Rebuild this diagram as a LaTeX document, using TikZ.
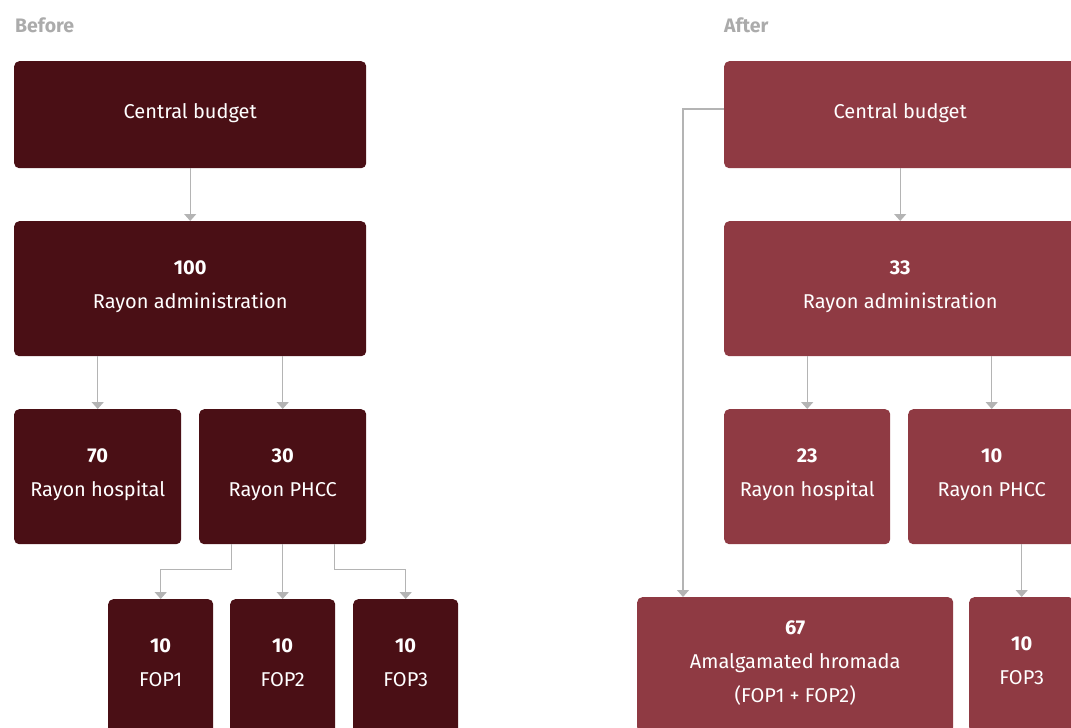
\documentclass[tikz,border=0pt]{standalone}
\usepackage{fontspec}
\setmainfont{Fira Sans}
\usetikzlibrary{arrows.meta,calc}
\definecolor{beforefill}{HTML}{4A0F15}
\definecolor{afterfill}{HTML}{8F3A43}
\definecolor{linkgray}{HTML}{B4B4B4}
\definecolor{titlegray}{HTML}{ABABAB}
\begin{document}
\begin{tikzpicture}[x=1pt,y=-1pt,
  box/.style={rectangle, rounded corners=5pt, inner sep=0pt, align=center,
    text=white, anchor=north west, font=\fontsize{20}{34}\selectfont},
  % text height/depth are measured from the baseline of the last line
  oneline/.style={text height=14pt, text depth=7pt},
  twoline/.style={text height=48pt, text depth=9pt},
  threeline/.style={text height=82pt, text depth=7pt},
  before/.style={box, fill=beforefill},
  after/.style={box, fill=afterfill},
  link/.style={draw=linkgray, line width=1.4pt, -{Triangle[width=12pt,length=7pt]}},
  title/.style={anchor=base west, inner sep=0pt, text=titlegray,
    font=\fontsize{19.5}{22}\selectfont\bfseries}]
\useasboundingbox (0,0) rectangle (1071,728);
\clip (0,0) rectangle (1071,728);

% ---------- Before ----------
\node[title] (tbefore) at (15,32) {Before};
\node[before, oneline, minimum width=352pt, minimum height=107pt] (cb1) at (14,61) {Central budget};
\node[before, twoline, minimum width=352pt, minimum height=135pt] (adm1) at (14,221) {\textbf{100}\\Rayon administration};
\node[before, twoline, minimum width=167pt, minimum height=135pt] (hosp1) at (14,409) {\textbf{70}\\Rayon hospital};
\node[before, twoline, minimum width=167pt, minimum height=135pt] (phcc1) at (199,409) {\textbf{30}\\Rayon PHCC};
\node[before, twoline, minimum width=105pt, minimum height=135pt] (fop1) at (108,599) {\textbf{10}\\FOP1};
\node[before, twoline, minimum width=105pt, minimum height=135pt] (fop2) at (230,599) {\textbf{10}\\FOP2};
\node[before, twoline, minimum width=105pt, minimum height=135pt] (fop3) at (353,599) {\textbf{10}\\FOP3};

\draw[link] (cb1.south) -- (adm1.north);
\draw[link] (hosp1.north |- adm1.south) -- (hosp1.north);
\draw[link] (phcc1.north |- adm1.south) -- (phcc1.north);
\draw[link] ([xshift=-51.5pt]phcc1.south) -- ++(0,25) -| (fop1.north);
\draw[link] (fop2.north |- phcc1.south) -- (fop2.north);
\draw[link] ([xshift=51.5pt]phcc1.south) -- ++(0,25) -| (fop3.north);

% ---------- After ----------
\node[title] (tafter) at (724,32) {After};
\node[after, oneline, minimum width=352pt, minimum height=107pt] (cb2) at (724,61) {Central budget};
\node[after, twoline, minimum width=352pt, minimum height=135pt] (adm2) at (724,221) {\textbf{33}\\Rayon administration};
\node[after, twoline, minimum width=166pt, minimum height=135pt] (hosp2) at (724,409) {\textbf{23}\\Rayon hospital};
\node[after, twoline, minimum width=167pt, minimum height=135pt] (phcc2) at (908,409) {\textbf{10}\\Rayon PHCC};
\node[after, threeline, minimum width=316pt, minimum height=135pt] (amal) at (637,597) {\textbf{67}\\Amalgamated hromada\\(FOP1 + FOP2)};
\node[after, twoline, minimum width=105pt, minimum height=135pt] (fop3b) at (969,597) {\textbf{10}\\FOP3};

\draw[link] (cb2.south) -- (adm2.north);
\draw[link] (hosp2.north |- adm2.south) -- (hosp2.north);
\draw[link] (phcc2.north |- adm2.south) -- (phcc2.north);
\draw[link] (fop3b.north |- phcc2.south) -- (fop3b.north);
\draw[link] ([yshift=-48pt]cb2.north west) -| ([xshift=46pt]amal.north west);
\end{tikzpicture}
\end{document}
